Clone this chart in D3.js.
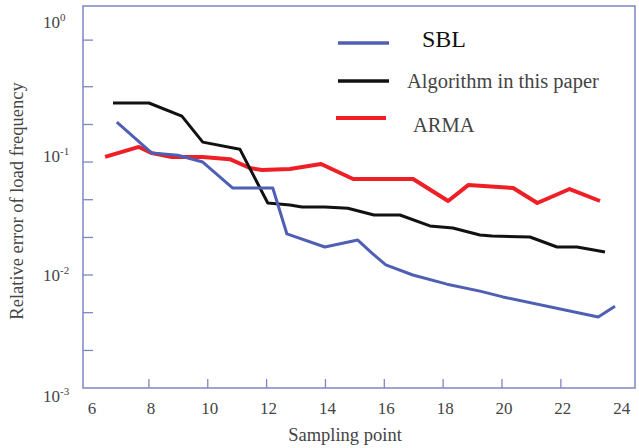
<!DOCTYPE html>
<html>
<head>
<meta charset="utf-8">
<script src="https://cdn.jsdelivr.net/npm/d3@7/dist/d3.min.js"></script>
<style>
  html, body { margin: 0; padding: 0; background: #fff; }
  svg { display: block; }
  text { font-family: "Liberation Serif", "Times New Roman", serif; }
</style>
</head>
<body>
<svg id="chart" width="639" height="448"></svg>
<script>
// ---- data ----
const sblX  = [6.91, 8.1, 8.98, 9.83, 10.85, 12.21, 12.69, 13.98, 15.1, 15.57, 16.05, 16.97, 18.13, 19.25, 20.03, 23.27, 23.84];
const sblY  = [0.226, 0.120, 0.115, 0.100, 0.0589, 0.0589, 0.0231, 0.0177, 0.0204, 0.0157, 0.0123, 0.0100, 0.0083, 0.0072, 0.0064, 0.00425, 0.0053];

const oursX = [6.78, 8.0, 9.12, 9.83, 11.09, 12.04, 12.79, 13.2, 13.98, 14.76, 15.65, 16.53, 17.55, 18.33, 19.25, 19.66, 20.95, 21.87, 22.55, 23.5];
const oursY = [0.333, 0.333, 0.255, 0.150, 0.130, 0.0434, 0.0416, 0.040, 0.040, 0.039, 0.034, 0.034, 0.0272, 0.0261, 0.0226, 0.0221, 0.0217, 0.0177, 0.0177, 0.016];

const armaX = [6.51, 7.66, 8.1, 8.78, 9.83, 10.75, 11.43, 11.84, 12.79, 13.85, 14.94, 16.98, 18.17, 18.85, 20.38, 21.2, 22.3, 23.33];
const armaY = [0.111, 0.136, 0.120, 0.111, 0.111, 0.106, 0.0885, 0.085, 0.0867, 0.096, 0.0708, 0.0708, 0.0452, 0.0625, 0.0589, 0.0434, 0.0577, 0.0452];

const seriesNames  = ["SBL", "Algorithm in this paper", "ARMA"];
const xTickLabels  = [6, 8, 10, 12, 14, 16, 18, 20, 22, 24];
const xTickMarks   = [8, 10, 12, 14, 16, 18, 20, 22];
const yMinorTicks  = [0.00215, 0.00464, 0.0215, 0.0464, 0.215, 0.464, 1.2];
const yLabelExps   = [-3, -2, -1, 0];
const yLabelAnchor = [0.00075, 0.0089, 0.1, 1.53];

// ---- layout ----
const svg = d3.select("#chart");
const L = 83, R = 635, T = 6, B = 388;
const x = d3.scaleLinear().domain([5.76, 24.52]).range([L, R]);
const y = d3.scaleLog().domain([0.001, 2.405]).range([B, T]);

const axisColor = "#7d86c6";
const labelColor = "#444";

// frame
svg.append("rect").attr("x", L).attr("y", T).attr("width", R - L).attr("height", B - T)
  .attr("fill", "none").attr("stroke", axisColor).attr("stroke-width", 1.5);

// y ticks (inward)
const yt = yMinorTicks.concat([0.01, 0.1]);
svg.append("g").selectAll("line").data(yt).join("line")
  .attr("x1", L).attr("x2", L + 10)
  .attr("y1", d => y(d)).attr("y2", d => y(d))
  .attr("stroke", axisColor).attr("stroke-width", 1.3);

// x ticks (inward)
svg.append("g").selectAll("line").data(xTickMarks).join("line")
  .attr("x1", d => x(d)).attr("x2", d => x(d))
  .attr("y1", B).attr("y2", B - 9)
  .attr("stroke", axisColor).attr("stroke-width", 1.3);

// x tick labels
svg.append("g").selectAll("text").data(xTickLabels).join("text")
  .attr("x", d => x(d) + 2).attr("y", 414)
  .attr("text-anchor", "middle").attr("font-size", 17).attr("fill", labelColor)
  .text(d => d);

// y tick labels
const yl = svg.append("g").selectAll("text").data(yLabelExps).join("text")
  .attr("x", 43).attr("y", (d, i) => y(yLabelAnchor[i]))
  .attr("font-size", 17).attr("fill", labelColor);
yl.append("tspan").text("10");
yl.append("tspan").attr("font-size", 11).attr("dy", -7).text(d => d);

// axis titles
svg.append("text").attr("x", 345).attr("y", 441).attr("text-anchor", "middle")
  .attr("font-size", 18.5).attr("fill", labelColor).text("Sampling point");
svg.append("text").attr("transform", "translate(23,201) rotate(-90)")
  .attr("text-anchor", "middle").attr("font-size", 18.5).attr("fill", labelColor)
  .text("Relative error of load frequency");

// lines
const line = d3.line().x(d => x(d[0])).y(d => y(d[1]));
const series = [
  { xs: sblX,  ys: sblY,  color: "#4f5fb3", w: 3 },
  { xs: oursX, ys: oursY, color: "#111111", w: 3 },
  { xs: armaX, ys: armaY, color: "#ee2026", w: 4 }
];
svg.append("g").selectAll("path").data(series.slice().reverse()).join("path")
  .attr("d", s => line(s.xs.map((v, i) => [v, s.ys[i]])))
  .attr("fill", "none").attr("stroke", s => s.color).attr("stroke-width", s => s.w)
  .attr("stroke-linejoin", "round");

// legend
const leg = [
  { x1: 338, x2: 389, ly: 43,  tx: 422, ty: 47,  fs: 24, tc: "#111" },
  { x1: 338, x2: 389, ly: 81,  tx: 407, ty: 88,  fs: 20.5, tc: labelColor },
  { x1: 336, x2: 386, ly: 118, tx: 413, ty: 132, fs: 20.5, tc: labelColor }
];
leg.forEach((l, i) => {
  svg.append("line").attr("x1", l.x1).attr("x2", l.x2).attr("y1", l.ly).attr("y2", l.ly)
    .attr("stroke", series[i].color).attr("stroke-width", i === 2 ? 4 : 3.5);
  svg.append("text").attr("x", l.tx).attr("y", l.ty).attr("font-size", l.fs)
    .attr("fill", l.tc).text(seriesNames[i]);
});
</script>
</body>
</html>
